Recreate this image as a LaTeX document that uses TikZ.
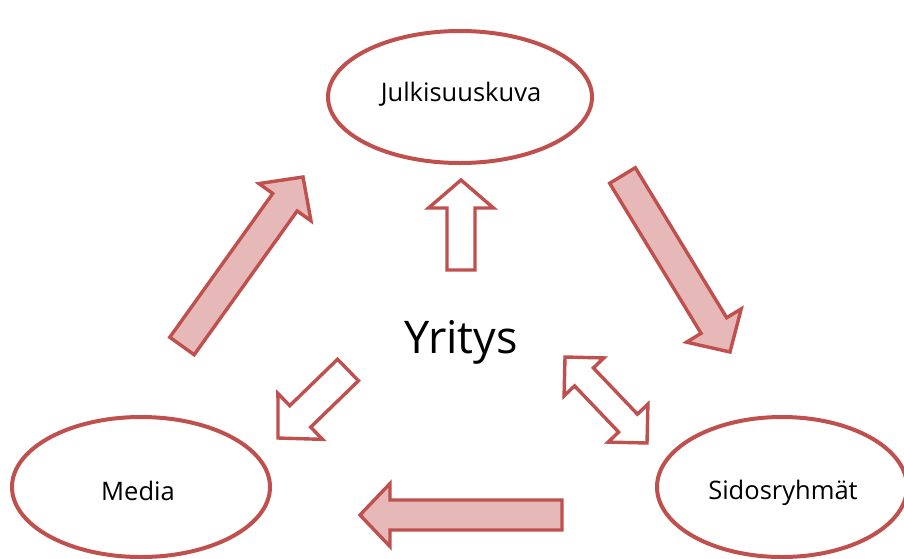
\documentclass[tikz,border=0pt]{standalone}
\usepackage{fontspec}
\setmainfont{Open Sans}
\usetikzlibrary{calc,shapes.geometric}

\definecolor{rimred}{HTML}{C0504D}
\definecolor{pinkfill}{HTML}{E6B9B8}

\tikzset{
  oval/.style={ellipse, draw=rimred, line width=4pt, fill=white, inner sep=0pt},
  ovaltext/.style={font=\fontsize{25.5}{30}\selectfont, inner sep=0pt},
  solidarrow/.style={draw=rimred, fill=pinkfill, line width=3.4pt, line join=miter},
  hollowarrow/.style={draw=rimred, fill=white, line width=3.4pt, line join=miter},
}

% block arrow: style, tail, tip, half shaft width, half head width, head length
\newcommand\blockarrow[6]{%
  \coordinate (ba) at ($(#3)!#6!(#2)$);
  \draw[#1] ($(#2)!#4!90:(#3)$) -- ($(ba)!#4!90:(#3)$) -- ($(ba)!#5!90:(#3)$)
    -- (#3) -- ($(ba)!#5!-90:(#3)$) -- ($(ba)!#4!-90:(#3)$)
    -- ($(#2)!#4!-90:(#3)$) -- cycle;
}
% two-headed block arrow: style, tip one, tip two, half shaft, half head, head length
\newcommand\twowayarrow[6]{%
  \coordinate (ba) at ($(#2)!#6!(#3)$);
  \coordinate (bb) at ($(#3)!#6!(#2)$);
  \draw[#1] (#2) -- ($(ba)!#5!90:(#3)$) -- ($(ba)!#4!90:(#3)$)
    -- ($(bb)!#4!90:(#3)$) -- ($(bb)!#5!90:(#3)$) -- (#3)
    -- ($(bb)!#5!-90:(#3)$) -- ($(bb)!#4!-90:(#3)$)
    -- ($(ba)!#4!-90:(#3)$) -- ($(ba)!#5!-90:(#3)$) -- cycle;
}

\begin{document}
\begin{tikzpicture}[x=1pt,y=-1pt]
  \useasboundingbox (0,0) rectangle (904,558);
  \fill[white] (0,0) rectangle (904,558);

  % the three ovals
  \node[oval, minimum width=264pt, minimum height=132pt] (julk) at (460,97) {};
  \node[oval, minimum width=258pt, minimum height=140pt] (media) at (141,487) {};
  \node[oval, minimum width=250pt, minimum height=140pt] (sidos) at (782,487) {};
  \node[ovaltext] (julkt) at ($(julk)+(1,-3)$) {Julkisuuskuva};
  \node[ovaltext] (mediat) at ($(media)+(-3,4)$) {Media};
  \node[ovaltext] (sidost) at ($(sidos)+(1,6)$) {Sidosryhmät};

  % the company in the middle
  \node[font=\fontsize{45}{52}\selectfont, anchor=base, inner sep=0pt] (yritys) at (461,353) {Yritys};

  % arrow end points
  \coordinate (c1t) at (182,346);   \coordinate (c1h) at (303,177);
  \coordinate (c2t) at (622.5,175.5); \coordinate (c2h) at (730,352);
  \coordinate (c3t) at (562,515);   \coordinate (c3h) at (360,515);
  \coordinate (y1t) at (461,270);   \coordinate (y1h) at (461,180);
  \coordinate (y2t) at (348,370);   \coordinate (y2h) at (278,438);
  \coordinate (y3a) at (565,357);   \coordinate (y3b) at (647,443);

  % the cycle between the ovals
  \blockarrow{solidarrow}{c1t}{c1h}{15pt}{32pt}{31pt}
  \blockarrow{solidarrow}{c2t}{c2h}{15pt}{32pt}{31pt}
  \blockarrow{solidarrow}{c3t}{c3h}{15pt}{31.5pt}{30pt}

  % arrows from the company
  \blockarrow{hollowarrow}{y1t}{y1h}{14pt}{32.5pt}{28pt}
  \blockarrow{hollowarrow}{y2t}{y2h}{15pt}{32pt}{31pt}
  \twowayarrow{hollowarrow}{y3a}{y3b}{13pt}{27.5pt}{27.5pt}
\end{tikzpicture}
\end{document}
